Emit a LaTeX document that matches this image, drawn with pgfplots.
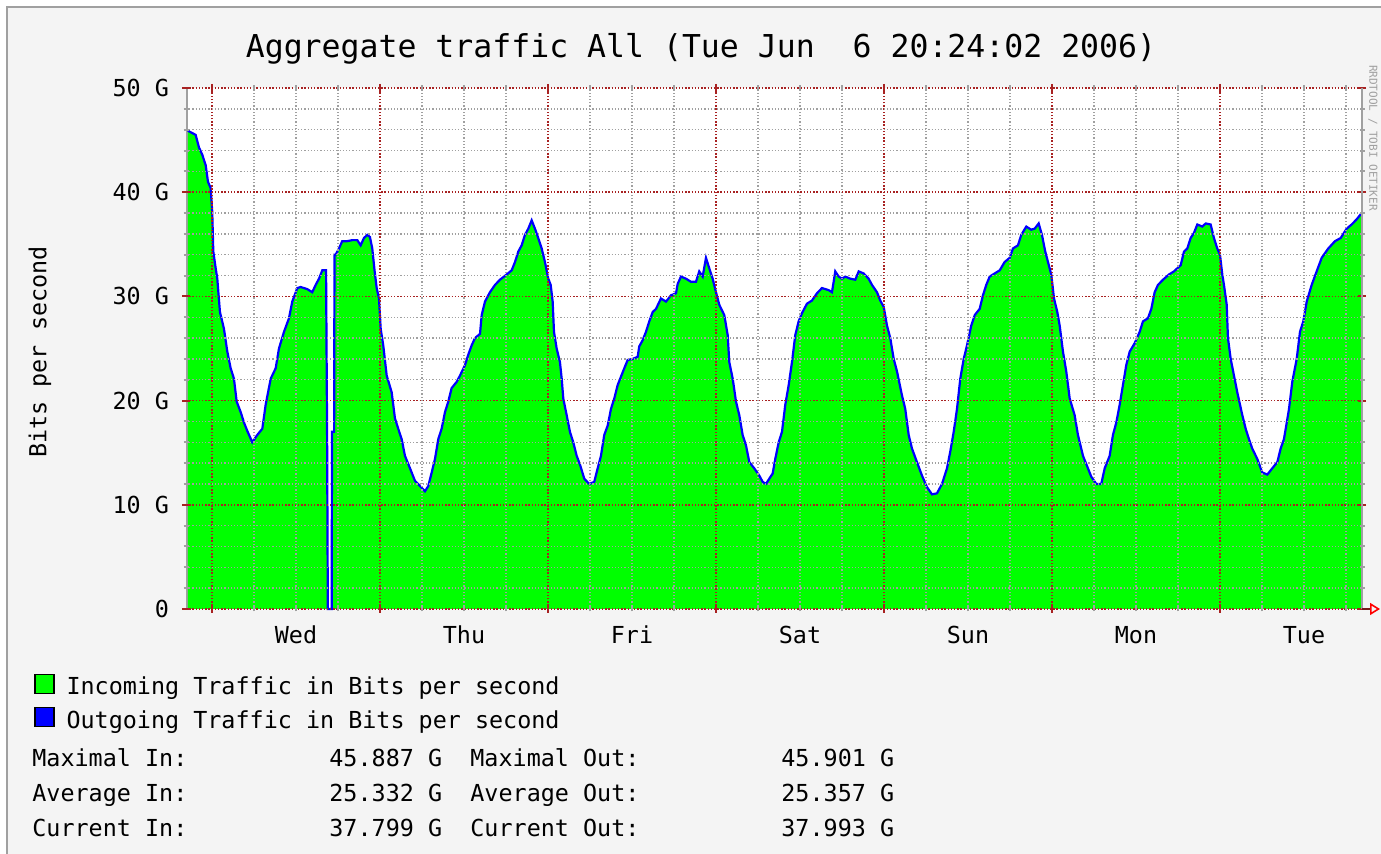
\documentclass[border=0pt]{standalone}
\usepackage{pgfplots}
\pgfplotsset{compat=1.18}
\usepackage{pgfplotstable}
\usepackage{fontspec}
\usetikzlibrary{arrows.meta}
\setmainfont{DejaVu Sans Mono}
\setmonofont{DejaVu Sans Mono}
\definecolor{bgc}{HTML}{F4F4F4}
\definecolor{framec}{HTML}{A0A0A0}
\definecolor{ingreen}{HTML}{00FF00}
\definecolor{outblue}{HTML}{0000FF}
\definecolor{mgrid}{HTML}{A82222}
\definecolor{ngrid}{HTML}{A0A0A0}
\newcommand{\nf}{\fontsize{11.7pt}{14pt}\selectfont}
\newcommand{\tf}{\fontsize{15.75pt}{18pt}\selectfont}

\pgfplotstableread{
h v
-3.45 45.9
-2.33 45.5
-1.86 44.3
-1.39 43.6
-0.90 42.6
-0.57 41.0
-0.19 40.4
0.04 38.1
0.19 34.3
0.53 32.7
0.76 31.7
1.14 28.5
1.71 26.9
2.19 24.7
2.67 23.1
3.14 22.1
3.53 19.9
4.10 18.9
4.57 17.9
5.04 17.1
5.76 16.0
6.47 16.7
7.19 17.3
7.67 19.6
8.39 22.1
9.10 23.1
9.57 25.0
10.29 26.6
11.00 27.9
11.47 29.5
12.19 30.8
12.67 30.9
13.61 30.7
14.33 30.4
14.81 31.1
15.29 31.7
15.76 32.5
16.30 32.5
16.45 16.3
16.55 0
17.10 0
17.15 17.0
17.45 17.0
17.50 34.0
17.67 34.0
18.14 34.6
18.61 35.3
19.33 35.3
20.04 35.4
20.76 35.4
21.24 34.9
21.71 35.6
22.19 35.9
22.57 35.7
22.90 34.6
23.24 32.4
23.53 30.8
23.86 29.8
24.10 26.9
24.47 25.3
24.96 22.4
25.67 20.8
26.14 18.3
26.61 17.3
27.10 16.3
27.57 14.7
28.29 13.5
29.00 12.3
29.71 11.8
30.43 11.3
30.90 11.8
31.39 13.1
31.86 14.4
32.33 16.3
32.81 17.3
33.29 18.9
33.76 19.9
34.24 21.2
34.96 21.8
35.43 22.4
36.14 23.4
36.61 24.4
37.10 25.3
37.57 26.0
38.29 26.4
38.53 28.2
39.00 29.5
39.71 30.4
40.43 31.1
41.14 31.6
42.10 32.1
42.81 32.5
43.29 33.3
43.76 34.3
44.24 34.9
44.71 35.9
45.19 36.5
45.67 37.3
46.14 36.5
46.61 35.6
47.10 34.6
47.57 33.3
48.04 31.7
48.39 31.1
48.67 29.5
48.86 26.6
49.24 25.0
49.71 23.7
49.96 22.1
50.19 20.2
50.67 18.6
51.14 17.0
51.61 16.0
52.10 14.7
52.60 13.8
53.19 12.5
53.90 12.0
54.61 12.2
55.10 13.5
55.57 14.7
56.04 16.7
56.53 17.6
57.00 19.2
57.47 20.2
57.96 21.5
58.43 22.3
58.90 23.1
59.39 23.9
60.10 24.0
60.81 24.2
61.04 25.2
61.53 25.8
62.00 26.6
62.47 27.6
62.96 28.5
63.43 28.8
64.14 29.8
64.86 29.5
65.57 30.1
66.29 30.3
66.53 31.2
67.00 31.9
67.71 31.7
68.43 31.4
69.14 31.4
69.61 32.4
70.10 31.9
70.57 33.7
71.04 32.7
71.53 31.7
72.00 30.4
72.47 29.2
73.19 28.2
73.67 26.3
73.90 23.7
74.39 22.1
74.86 19.9
75.33 18.6
75.81 16.7
76.29 15.7
76.76 14.1
77.47 13.5
78.19 12.8
78.67 12.2
79.14 12.0
79.61 12.5
80.10 13.0
80.47 14.4
80.96 16.0
81.43 17.0
81.90 19.6
82.39 21.5
82.86 23.7
83.33 26.3
83.81 27.6
84.29 28.4
85.00 29.3
85.71 29.6
86.43 30.3
87.14 30.8
88.10 30.6
88.57 30.4
88.81 31.4
89.04 32.4
89.53 31.9
90.00 31.7
90.47 31.9
91.19 31.7
91.90 31.6
92.39 32.4
93.10 32.2
93.81 31.7
94.29 31.1
95.00 30.4
95.47 29.6
95.96 29.0
96.43 27.2
96.90 26.0
97.39 24.0
97.86 22.8
98.57 20.5
99.04 19.2
99.53 16.7
100.00 15.4
100.71 14.1
101.43 12.8
102.14 11.7
102.86 11.0
103.57 11.1
104.29 12.0
105.00 13.5
105.47 15.1
105.96 17.0
106.43 19.2
106.90 22.1
107.39 24.0
107.86 25.3
108.47 27.2
108.96 28.2
109.67 28.8
110.14 30.1
110.61 31.1
111.10 31.9
111.81 32.2
112.53 32.5
113.24 33.3
113.96 33.7
114.43 34.6
115.14 34.9
115.61 35.9
116.33 36.7
117.04 36.4
117.53 36.5
118.10 37.0
118.57 35.9
119.04 34.3
119.43 33.3
119.90 32.1
120.29 29.8
120.76 28.5
121.10 27.2
121.57 24.7
122.04 22.8
122.53 20.2
123.24 18.6
123.71 16.7
124.43 14.7
125.14 13.5
125.61 12.7
126.33 12.0
127.04 12.0
127.53 13.5
128.24 14.7
128.71 16.7
129.19 17.9
129.67 19.6
130.14 21.5
130.61 23.4
131.10 24.7
131.81 25.5
132.53 26.6
133.00 27.6
133.71 27.9
134.19 28.8
134.67 30.4
135.14 31.1
135.86 31.6
136.71 32.1
137.43 32.4
138.39 33.0
138.86 34.3
139.33 34.6
139.81 35.6
140.29 36.1
140.76 36.9
141.47 36.7
141.96 37.0
142.67 36.9
143.14 35.6
143.61 34.6
144.00 34.0
144.33 32.1
144.57 31.1
144.96 29.2
145.14 26.0
145.53 24.0
146.00 22.4
146.47 20.8
147.19 18.6
147.67 17.3
148.14 16.3
148.61 15.4
149.33 14.4
150.04 13.1
150.76 12.9
151.47 13.5
152.19 14.1
152.67 15.4
153.14 16.3
153.86 19.2
154.33 21.8
154.96 24.0
155.43 26.6
155.90 27.6
156.39 29.5
157.10 31.1
157.81 32.4
158.53 33.7
159.47 34.6
160.43 35.3
161.24 35.6
162.10 36.5
162.81 36.9
163.53 37.4
164.24 38.0
}\traffic

\begin{document}
\begin{tikzpicture}
\path[use as bounding box, fill=white] (0pt,0pt) rectangle (690.5pt,427pt);
\fill[bgc] (3.5pt,0pt) rectangle (690.5pt,423.5pt);
\draw[framec, line width=1pt] (3.5pt,0pt) -- (3.5pt,423.5pt) -- (690.5pt,423.5pt);
\begin{axis}[
  at={(93pt,122.5pt)}, anchor=south west,
  scale only axis, width=588pt, height=260.5pt,
  xmin=-3.71, xmax=164.29, ymin=0, ymax=50,
  clip=false,
  axis on top,
  axis background/.style={fill=white},
  axis line style={draw=none},
  xtick={0,24,...,144}, xticklabels={},
  minor xtick={6,12,18,30,36,42,54,60,66,78,84,90,102,108,114,126,132,138,150,156,162},
  extra x ticks={12,36,60,84,108,132,156},
  extra x tick labels={Wed,Thu,Fri,Sat,Sun,Mon,Tue},
  extra x tick style={grid=none, major tick length=0pt},
  ytick={0,10,...,50}, yticklabels={0,10 G,20 G,30 G,40 G,50 G},
  minor y tick num=4,
  grid=both,
  major grid style={mgrid, line width=0.8pt, dash pattern=on 0.7pt off 0.9pt},
  minor grid style={ngrid, line width=0.7pt, dash pattern=on 0.6pt off 1pt},
  tick align=center,
  major tick length=4pt, minor tick length=2.5pt,
  major tick style={mgrid, line width=1pt},
  minor tick style={ngrid, line width=1pt},
  /pgf/number format/assume math mode=true,
  ticklabel style={font=\nf, text=black},
  yticklabel style={xshift=-3pt},
  xticklabel style={yshift=-5pt},
  legend style={at={(axis description cs:-0.1293,-0.1236)}, anchor=north west,
    draw=none, fill=none, inner sep=0pt, font=\nf, row sep=3.6pt, column sep=6pt,
    nodes={inner sep=0pt, text height=8.5pt, text depth=2.5pt}},
  legend cell align=left,
]
\draw[ngrid, line width=1pt] (axis cs:-3.55,0) -- (axis cs:-3.55,50);
\addplot[fill=ingreen, draw=none,
  legend image code/.code={\draw[black, line width=0.6pt, fill=ingreen] (0pt,-2.2pt) rectangle (9.5pt,7.3pt);}]
  table[x=h, y=v] {\traffic} \closedcycle;
\addlegendentry{Incoming Traffic in Bits per second}
\addplot[outblue, line width=1.1pt, sharp plot,
  legend image code/.code={\draw[black, line width=0.6pt, fill=outblue] (0pt,-2.2pt) rectangle (9.5pt,7.3pt);}]
  table[x=h, y=v] {\traffic};
\addlegendentry{Outgoing Traffic in Bits per second}
\end{axis}
\draw[ngrid, line width=1pt] (681pt,122.5pt) -- (681pt,383pt);
\draw[mgrid!70!black, line width=0.8pt, -{Triangle[open, length=5pt, width=6pt, red, line width=0.8pt]}] (681pt,122.5pt) -- (690pt,122.5pt);
\node[font=\tf, anchor=base, inner sep=0pt] at (350.5pt,398pt) {Aggregate traffic All (Tue Jun\ \ 6 20:24:02 2006)};
\node[font=\nf, rotate=90, anchor=center, inner sep=0pt] at (20pt,251pt) {Bits per second};
\node[font=\fontsize{5.5pt}{6pt}\selectfont, text=ngrid, rotate=-90, anchor=center, inner sep=0pt] at (686.5pt,358pt) {RRDTOOL / TOBI OETIKER};
\foreach \yy/\la/\va/\lb/\vb in {43.75/Maximal In:/45.887 G/Maximal Out:/45.901 G,
  26.25/Average In:/25.332 G/Average Out:/25.357 G,
  8.75/Current In:/37.799 G/Current Out:/37.993 G}{
  \node[font=\nf, anchor=base west, inner sep=0pt] at (16pt,\yy pt) {\la};
  \node[font=\nf, anchor=base west, inner sep=0pt] at (164.5pt,\yy pt) {\va};
  \node[font=\nf, anchor=base west, inner sep=0pt] at (235pt,\yy pt) {\lb};
  \node[font=\nf, anchor=base west, inner sep=0pt] at (390.5pt,\yy pt) {\vb};
}
\end{tikzpicture}
\end{document}
